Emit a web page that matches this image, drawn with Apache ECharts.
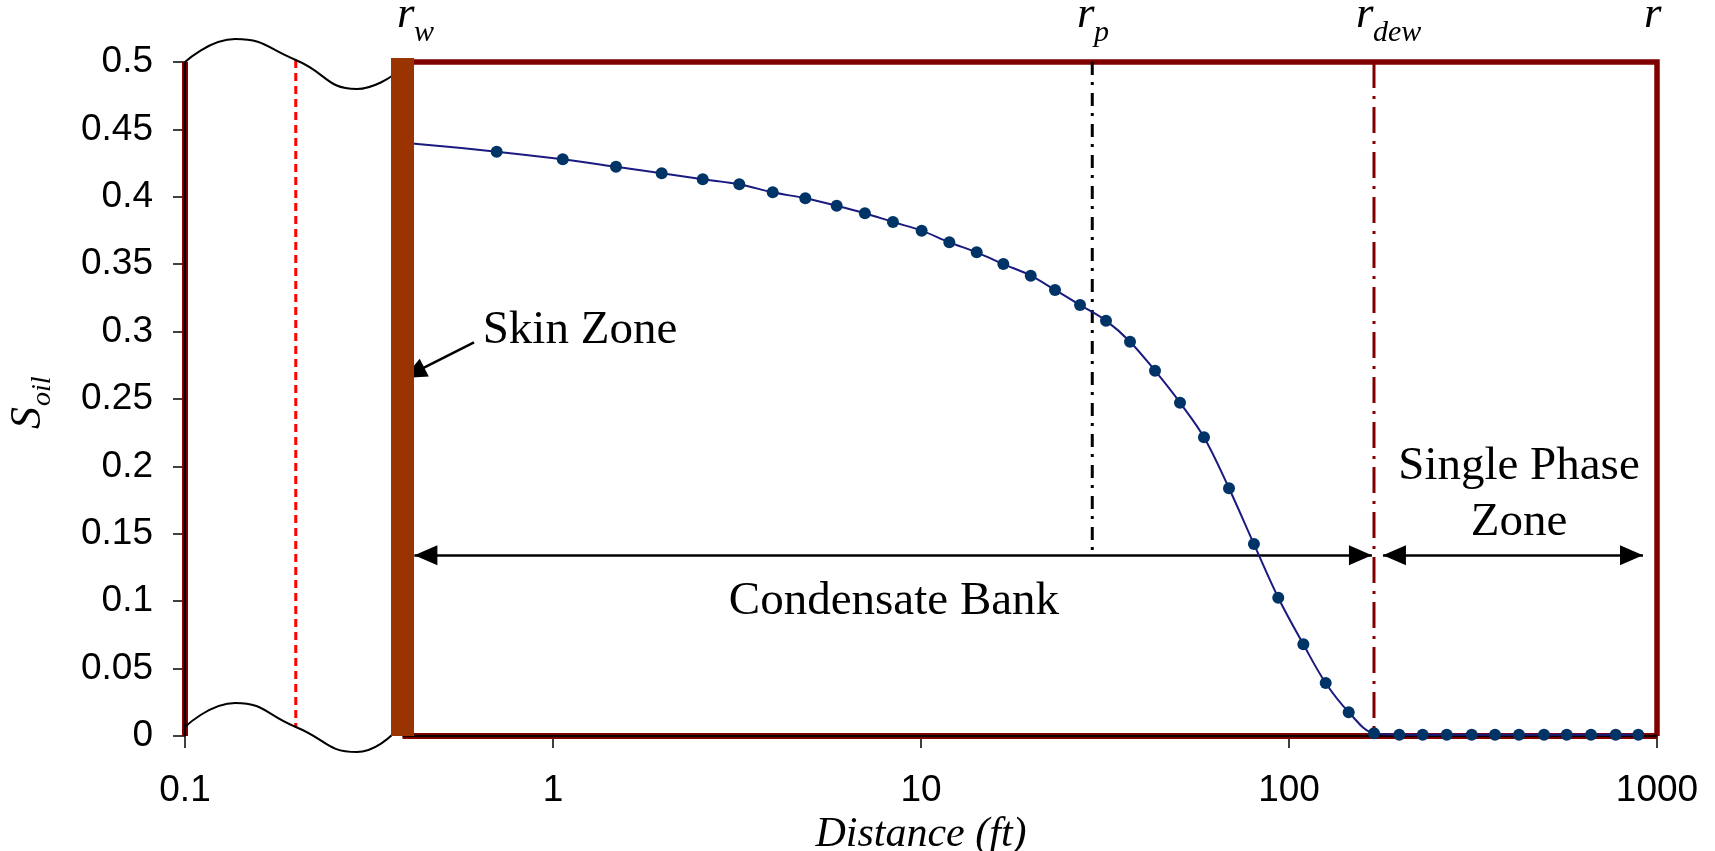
<!DOCTYPE html>
<html>
<head>
<meta charset="utf-8">
<title>Condensate bank oil saturation profile</title>
<script src="https://cdn.jsdelivr.net/npm/echarts@6.0.0/dist/echarts.min.js"></script>
<style>
html,body{margin:0;padding:0;background:#ffffff;}
#chart{width:1715px;height:851px;}
</style>
</head>
<body>
<div id="chart"></div>
<script>
// ---------------- data ----------------
const distanceFt = [0.40, 0.703, 1.063, 1.483, 1.974, 2.552, 3.208, 3.954, 4.849, 5.90,
  7.04, 8.39, 10.04, 11.94, 14.17, 16.74, 19.87, 23.13, 27.05, 31.82,
  36.98, 43.24, 50.56, 58.75, 68.7, 80.3, 93.5, 109.4, 125.8, 145.3,
  170.2, 199.4, 230.8, 268.3, 313.7, 362.9, 421.7, 493.1, 568.4, 661.8,
  772.3, 889.6];
const soilSaturation = [0.440, 0.4335, 0.4278, 0.4223, 0.4174, 0.4130, 0.4093, 0.4033, 0.3989, 0.3934,
  0.3878, 0.3813, 0.3749, 0.3662, 0.3588, 0.3501, 0.3415, 0.3309, 0.3197, 0.3081,
  0.2925, 0.2710, 0.2473, 0.2216, 0.1838, 0.1424, 0.1026, 0.0680, 0.0393, 0.0177,
  0.002, 0.001, 0.001, 0.001, 0.001, 0.001, 0.001, 0.001, 0.001, 0.001,
  0.001, 0.001];

const xTickLabels = ['0.1', '1', '10', '100', '1000'];
const yTickLabels = ['0', '0.05', '0.1', '0.15', '0.2', '0.25', '0.3', '0.35', '0.4', '0.45', '0.5'];

const xMin = 0.1, xMax = 1000, yMin = 0, yMax = 0.5, yStep = 0.05;

// characteristic radii (ft)
const rWell = 0.39;     // r_w : wellbore / skin zone bar
const rP = 29.2;        // r_p
const rDew = 170.2;     // r_dew
const rOuter = 1000;    // r

// axis break (wavy lines) and dashed break line
const breakTopX = [0.1, 0.137, 0.2, 0.293, 0.365];
const breakTopY = [0.5, 0.517, 0.5015, 0.480, 0.4896];
const breakBotX = [0.1, 0.137, 0.2, 0.293, 0.365];
const breakBotY = [0.0067, 0.0245, 0.0067, -0.0119, 0.0007];
const breakDashX = 0.2;

// arrows
const arrowLevel = 0.134;
const bankArrowX = [0.42, 168];
const phaseArrowX = [180, 916];
const skinArrowX = [0.61, 0.393];
const skinArrowY = [0.292, 0.2656];

// annotation texts
const zoneText = ['Skin Zone', 'Condensate Bank', 'Single Phase\nZone'];
const zoneTextX = [1.184, 8.445, 421.7];
const zoneTextY = [0.3004, 0.0995, 0.179];
const radiusSubs = ['w', 'p', 'dew', ''];
const radiusLabelX = [0.3769, 26.54, 152.1, 922];

// ---------------- chart ----------------
const SERIF = "'Liberation Serif', 'Times New Roman', serif";
const SANS = "'Liberation Sans', Arial, sans-serif";
const chart = echarts.init(document.getElementById('chart'), null, {renderer: 'canvas'});

function zip(xs, ys) { return xs.map((x, i) => [x, ys[i]]); }
function seg(points, lineStyle, extra) {
  return Object.assign({
    type: 'line', data: points, symbol: 'none', silent: true,
    clip: false, lineStyle: lineStyle, emphasis: {disabled: true}
  }, extra || {});
}

const option = {
  animation: false,
  backgroundColor: '#ffffff',
  grid: {left: 185, right: 58, top: 62, bottom: 115, outerBoundsMode: 'none', containLabel: false},
  xAxis: {
    type: 'log', logBase: 10, min: xMin, max: xMax,
    axisLine: {show: false},
    axisTick: {show: true, inside: false, length: 12, lineStyle: {color: '#000', width: 1.5}},
    minorTick: {show: false},
    splitLine: {show: false},
    axisLabel: {
      margin: 36, color: '#000', fontSize: 37, fontFamily: SANS,
      formatter: function (v) {
        const i = Math.round(Math.log10(v) - Math.log10(xMin));
        return xTickLabels[i] !== undefined ? xTickLabels[i] : '';
      }
    },
    name: 'Distance (ft)', nameLocation: 'middle', nameGap: 70,
    nameTextStyle: {color: '#000', fontSize: 42, fontFamily: SERIF, fontStyle: 'italic'}
  },
  yAxis: {
    type: 'value', min: yMin, max: yMax, interval: yStep,
    axisLine: {show: false},
    axisTick: {show: true, inside: false, length: 12, lineStyle: {color: '#000', width: 1.5}},
    splitLine: {show: false},
    axisLabel: {
      margin: 32, color: '#000', fontSize: 37, fontFamily: SANS,
      formatter: function (v) {
        const i = Math.round((v - yMin) / yStep);
        return yTickLabels[i] !== undefined ? yTickLabels[i] : '';
      }
    }
  },
  series: [
    // left frame line (x = 0.1)
    seg([[xMin, yMin], [xMin, yMax]], {color: '#8b0000', width: 6}, {z: 5}),
    seg([[xMin, yMin], [xMin, yMax]], {color: '#150000', width: 2.5}, {z: 6}),
    // bottom frame line
    seg([[rWell, yMin], [rOuter, yMin]], {color: '#8b0000', width: 6}, {z: 5}),
    seg([[rWell, yMin], [rOuter, yMin]], {color: '#150000', width: 2.5}, {z: 6}),
    // top + right frame
    seg([[rWell, yMax], [rOuter, yMax], [rOuter, yMin]], {color: '#800000', width: 5.5, join: 'miter'}, {z: 5}),
    // axis break waves
    seg(zip(breakTopX, breakTopY), {color: '#000', width: 2}, {smooth: 0.5, z: 7}),
    seg(zip(breakBotX, breakBotY), {color: '#000', width: 2}, {smooth: 0.5, z: 7}),
    // red dashed line in the break
    seg([[breakDashX, breakTopY[2]], [breakDashX, breakBotY[2]]], {color: '#ff0000', width: 3, type: [8, 5]}, {z: 6}),
    // r_p dash-dot
    seg([[rP, yMax], [rP, arrowLevel]], {color: '#000', width: 3, type: [13, 7, 3, 8]}, {z: 6}),
    // r_dew dash-dot
    seg([[rDew, yMax], [rDew, yMin]], {color: '#800000', width: 3, type: [26, 8, 3, 8]}, {z: 6}),
    // saturation profile
    {
      type: 'line', name: 'Soil', data: zip(distanceFt, soilSaturation),
      smooth: 0.35, symbol: 'circle', symbolSize: 12, showAllSymbol: true,
      itemStyle: {color: '#003366'},
      lineStyle: {color: '#1a1a80', width: 2},
      silent: true, z: 8, clip: false
    },
    // skin zone bar at r_w
    seg([[rWell, yMin], [rWell, 0.503]], {color: '#993300', width: 23, cap: 'butt'}, {z: 9}),
    // arrows
    {
      type: 'line', data: [], z: 10, silent: true,
      markLine: {
        silent: true, animation: false,
        symbol: ['triangle', 'triangle'], symbolSize: [20, 23],
        lineStyle: {color: '#000', width: 2.5, type: 'solid'},
        label: {show: false},
        emphasis: {disabled: true},
        data: [
          [{coord: [bankArrowX[0], arrowLevel], symbolOffset: [0, '50%']},
           {coord: [bankArrowX[1], arrowLevel], symbolOffset: [0, '50%']}],
          [{coord: [phaseArrowX[0], arrowLevel], symbolOffset: [0, '50%']},
           {coord: [phaseArrowX[1], arrowLevel], symbolOffset: [0, '50%']}],
          [{coord: [skinArrowX[0], skinArrowY[0]], symbol: 'none'},
           {coord: [skinArrowX[1], skinArrowY[1]], symbol: 'triangle', symbolOffset: [0, '50%']}]
        ]
      }
    }
  ]
};
chart.setOption(option);

// ---------------- annotations placed through the chart's scales ----------------
const P = (x, y) => chart.convertToPixel({gridIndex: 0}, [x, y]);
const els = [];
function txt(x, y, text, size, italic, align, extraStyle) {
  return {
    type: 'text', x: x, y: y, silent: true, z: 20,
    style: Object.assign({
      text: text, fill: '#000', fontSize: size, fontFamily: SERIF,
      fontStyle: italic ? 'italic' : 'normal',
      align: align, textAlign: align, verticalAlign: 'middle', textVerticalAlign: 'middle'
    }, extraStyle || {})
  };
}
zoneText.forEach((t, i) => {
  const p = P(zoneTextX[i], zoneTextY[i]);
  els.push(txt(p[0], p[1], t, 47, false, 'center', {lineHeight: 56}));
});
const topPx = P(xMin, yMax)[1];
radiusLabelX.forEach((xv, i) => {
  const px = P(xv, yMax)[0];
  els.push(txt(px, topPx - 32 - 0.3375 * 45, 'r', 45, true, 'left'));
  if (radiusSubs[i]) {
    els.push(txt(px + 17, topPx - 19 - 0.3375 * 30, radiusSubs[i], 30, true, 'left'));
  }
});
const midY = P(xMin, (yMin + yMax) / 2)[1];
els.push({
  type: 'group', x: 43, y: midY + 30, rotation: Math.PI / 2, silent: true, z: 20,
  children: [
    txt(0, -0.3375 * 44, 'S', 44, true, 'left'),
    txt(23, 9 - 0.3375 * 28, 'oil', 28, true, 'left')
  ]
});
chart.setOption({graphic: {elements: els}});
</script>
</body>
</html>
